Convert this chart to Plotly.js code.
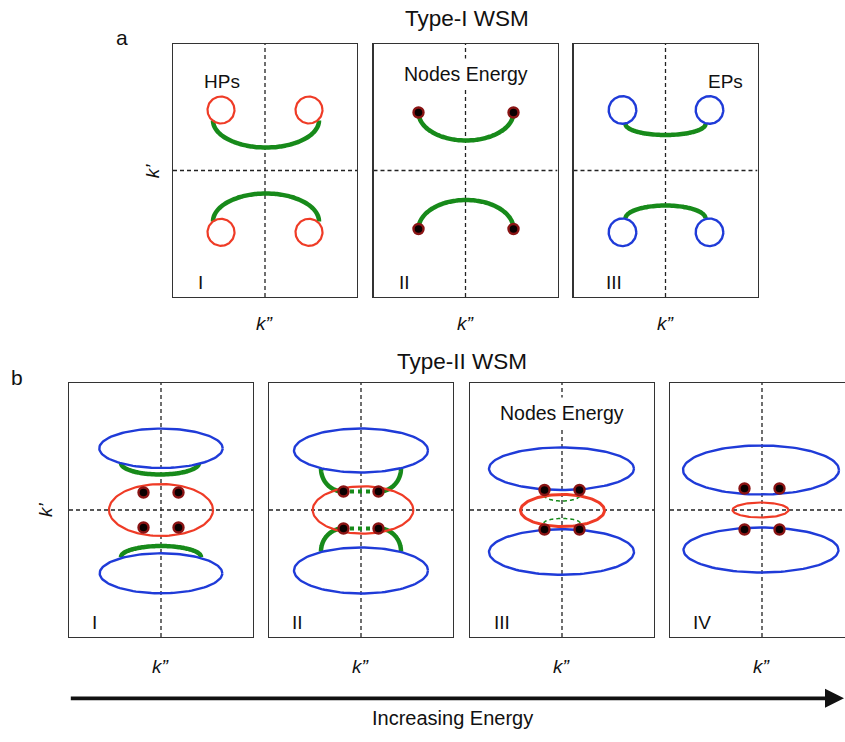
<!DOCTYPE html>
<html><head><meta charset="utf-8">
<script src="https://cdn.plot.ly/plotly-3.0.1.min.js"></script>
<style>html,body{margin:0;padding:0;background:#fff}#chart{width:845px;height:742px}</style>
</head><body><div id="chart"></div>
<script>
// ---------------- DATA (k-space schematic values, one unit = one pixel of the original) ----------------
// panels: 0-2 = Type-I WSM (a: I, II, III), 3-6 = Type-II WSM (b: I..IV)
const panelLabels = ['I','II','III','I','II','III','IV'];
const groupTitles = ['Type-I WSM','Type-II WSM'];
const groupLetters = ['a','b'];

// closed Fermi pockets: hp = hole pocket (red), ep = electron pocket (blue)
const loopPanel = [0,0,0,0, 2,2,2,2, 3,3,3, 4,4,4, 5,5,5, 6,6,6];
const loopKind  = ['hp','hp','hp','hp', 'ep','ep','ep','ep', 'ep','ep','hp', 'ep','ep','hp', 'ep','ep','hp3', 'ep','ep','hp'];
const loopX  = [-44,44,-44,44, -43,44,-43,44, 0,0,0, 0,0,2, -0.5,-0.5,0.5, -1,-1,-1.5];
const loopY  = [60.5,60.5,-61.8,-61.8, 60.5,60.5,-61.8,-61.8, 61.7,-63.3,0, 59.5,-60.5,0, 41.3,-42,-0.5, 40,-40,0];
const loopRx = [13.5,13.5,13.5,13.5, 13.8,13.8,13.8,13.8, 61.7,61.3,52, 67,67,50.3, 72.5,72.5,42, 78,77.5,28];
const loopRy = [13.5,13.5,13.5,13.5, 13.8,13.8,13.8,13.8, 19.7,20,26, 22,23,23.7, 21.3,22.8,16, 24.5,22.5,7.5];

// Fermi arcs: elliptical arcs (centre, half-axes, start/end angle in degrees)
const arcPanel = [0,0, 1,1, 2,2, 3,3, 4,4,4,4, 5,5];
const arcKind  = ['arc','arc', 'arc','arc', 'arc','arc', 'arc','arc', 'arc','arc','arc','arc', 'hidden','hidden'];
const arcX  = [1,1, 0.5,0.5, 0,0, -1,0, -18,18,-18,18, 0,0];
const arcY  = [50,-51, 58,-58.5, 46.5,-48, 47,-47, 41.5,41.5,-41.5,-41.5, 15,-13];
const arcRx = [53,53, 47.5,47.5, 40,40, 39,40, 22,22,22,22, 18,18];
const arcRy = [27,28, 28,29, 11,13, 11.5,11, 23,23,23,23, 6,4.5];
const arcFrom = [180,0, 180,0, 180,0, 180,0, 180,270,90,0, 180,0];
const arcTo   = [360,180, 360,180, 360,180, 360,180, 270,360,180,90, 360,180];

// dotted arc segments between nodes (panel b-II)
const segPanel = [4,4];
const segX0 = [-11,-11];
const segX1 = [12,12];
const segY  = [18.5,-18.5];

// Weyl nodes
const nodePanel = [1,1,1,1, 3,3,3,3, 4,4,4,4, 5,5,5,5, 6,6,6,6];
const nodeX = [-47,48,-47,48, -17.5,17.5,-17.5,17.5, -17.5,17.5,-17.5,17.5, -17.5,17.5,-17.5,17.5, -17.5,17.5,-17.5,17.5];
const nodeY = [58,58,-58.5,-58.5, 17.5,17.5,-17.5,-17.5, 18.5,18.5,-18.5,-18.5, 20,20,-19.5,-19.5, 21.5,21.5,-19.5,-19.5];

// ---------------- LAYOUT / STYLE ----------------
const W = 845, H = 742;
const FONT = 'Liberation Sans, Arial, Helvetica, sans-serif';
const panelBox = [ // left, top, width, height (pixels)
  [173,44,184,253],[373.5,44,184,253],[573.5,44,184,253],
  [69,383,184,254],[269,383,184,254],[470,383,184,254],[670,383,184,254]];
const styles = {
  hp:  {color:'#ef3b26', width:2.2},
  hp3: {color:'#ef3b26', width:3},
  ep:  {color:'#1f3bd8', width:2.4},
  arc: {color:'#178a1a', width:4.5, dash:'solid'},
  hidden: {color:'#178a1a', width:1.5, dash:'4px,3px'},
  seg: {color:'#178a1a', width:4, dash:'dot'}
};
const px = x => x / W, py = y => 1 - y / H;
const ax = p => p === 0 ? '' : String(p + 1);
const txt = (o) => Object.assign({showarrow:false, xanchor:'center', yanchor:'middle'}, o);

const layout = {
  width: W, height: H, margin:{l:0,r:0,t:0,b:0},
  paper_bgcolor:'#fff', plot_bgcolor:'#fff', showlegend:false,
  shapes: [], annotations: [], font:{family:FONT, color:'#111'}
};

panelBox.forEach((b, p) => {
  const [l, t, w, h] = b;
  const r = Math.min(W, l + w);
  const xr = [-w/2, r - l - w/2], yr = [-h/2, h/2];
  const common = {showgrid:false, zeroline:false, showticklabels:false, ticks:'', showline:true,
                  linecolor:'#333', linewidth:1.2, fixedrange:true};
  layout['xaxis' + ax(p)] = Object.assign({}, common, {domain:[px(l), px(r)], range:xr, anchor:'y' + ax(p), mirror:true});
  layout['yaxis' + ax(p)] = Object.assign({}, common, {domain:[py(t + h), py(t)], range:yr, anchor:'x' + ax(p), mirror: r - l >= w});
  const xref = 'x' + ax(p), yref = 'y' + ax(p);
  const dl = {color:'#222', width:1.3, dash:'4px,3px'};
  layout.shapes.push({type:'line', xref, yref, x0:0, x1:0, y0:yr[0], y1:yr[1], line:dl, layer:'below'});
  layout.shapes.push({type:'line', xref, yref, x0:xr[0], x1:xr[1], y0:0, y1:0, line:dl, layer:'below'});
  // panel numeral
  const numOff = [23,23,30,21,21,22,21][p];
  layout.annotations.push(txt({xref, yref, x: xr[0] + numOff, y: -h/2 + 14.5, xanchor:'left',
    text: panelLabels[p], font:{size:19, family:FONT, color:'#111'}}));
  // k'' label
  layout.annotations.push(txt({xref:'paper', yref:'paper', x: px(l + w/2), y: py(p < 3 ? 323 : 666.7),
    text:'<i>k\u201D</i>', font:{size:19, family:FONT, color:'#111'}}));
});

// k' labels
[[153.3,171],[45,510]].forEach(([x,y]) => layout.annotations.push(txt({xref:'paper', yref:'paper', x:px(x), y:py(y),
  text:'<i>k\u2019</i>', textangle:-90, font:{size:19, family:FONT, color:'#111'}})));
// group titles and letters
[[466.7,18.5],[462,362]].forEach(([x,y], i) => layout.annotations.push(txt({xref:'paper', yref:'paper', x:px(x), y:py(y),
  text:groupTitles[i], font:{size:22.5, family:FONT, color:'#111'}})));
[[121.7,37],[16.7,377]].forEach(([x,y], i) => layout.annotations.push(txt({xref:'paper', yref:'paper', x:px(x), y:py(y),
  text:groupLetters[i], font:{size:21, family:FONT, color:'#111'}})));
// in-panel labels
layout.annotations.push(txt({xref:'x', yref:'y', x:-43, y:89, text:'HPs', font:{size:19, family:FONT, color:'#111'}}));
layout.annotations.push(txt({xref:'x2', yref:'y2', x:0, y:97, text:'Nodes Energy', bgcolor:'#fff', borderpad:4, font:{size:19.5, family:FONT, color:'#111'}}));
layout.annotations.push(txt({xref:'x3', yref:'y3', x:60, y:89, text:'EPs', font:{size:19, family:FONT, color:'#111'}}));
layout.annotations.push(txt({xref:'x6', yref:'y6', x:0, y:96.7, text:'Nodes Energy', bgcolor:'#fff', borderpad:4, font:{size:19.5, family:FONT, color:'#111'}}));
// energy arrow
layout.annotations.push({xref:'paper', yref:'paper', x:1, y:py(698.3), ax:-(W - 69.3), ay:0, axref:'pixel', ayref:'pixel',
  text:'', showarrow:true, arrowhead:2, arrowsize:1, arrowwidth:3.8, arrowcolor:'#111'});
layout.annotations.push(txt({xref:'paper', yref:'paper', x:px(452), y:py(717.5), text:'Increasing Energy',
  font:{size:20, family:FONT, color:'#111'}}));

// ---------------- TRACES ----------------
const traces = [];
function ell(cx, cy, rx, ry, a0, a1, n) {
  const xs = [], ys = [];
  for (let i = 0; i <= n; i++) {
    const t = (a0 + (a1 - a0) * i / n) * Math.PI / 180;
    xs.push(cx + rx * Math.cos(t)); ys.push(cy + ry * Math.sin(t));
  }
  return [xs, ys];
}
// arcs (under pockets)
arcPanel.forEach((p, i) => {
  const [xs, ys] = ell(arcX[i], arcY[i], arcRx[i], arcRy[i], arcFrom[i], arcTo[i], 60);
  const s = styles[arcKind[i]];
  traces.push({type:'scatter', mode:'lines', x:xs, y:ys, xaxis:'x'+ax(p), yaxis:'y'+ax(p), hoverinfo:'skip',
    line:{color:s.color, width:s.width, dash:s.dash, shape:'spline'}});
});
segPanel.forEach((p, i) => {
  const s = styles.seg;
  traces.push({type:'scatter', mode:'lines', x:[segX0[i], segX1[i]], y:[segY[i], segY[i]], xaxis:'x'+ax(p), yaxis:'y'+ax(p),
    hoverinfo:'skip', line:{color:s.color, width:s.width, dash:s.dash}});
});
// pockets: red first, then blue
['hp','hp3','ep'].forEach(kind => loopPanel.forEach((p, i) => {
  if (loopKind[i] !== kind) return;
  const [xs, ys] = ell(loopX[i], loopY[i], loopRx[i], loopRy[i], 0, 360, 120);
  const s = styles[kind];
  traces.push({type:'scatter', mode:'lines', x:xs, y:ys, xaxis:'x'+ax(p), yaxis:'y'+ax(p), hoverinfo:'skip',
    line:{color:s.color, width:s.width}});
}));
// Weyl nodes
for (let p = 0; p < 7; p++) {
  const xs = [], ys = [];
  nodePanel.forEach((q, i) => { if (q === p) { xs.push(nodeX[i]); ys.push(nodeY[i]); } });
  if (!xs.length) continue;
  traces.push({type:'scatter', mode:'markers', x:xs, y:ys, xaxis:'x'+ax(p), yaxis:'y'+ax(p), hoverinfo:'skip',
    marker:{size:10, color:'#0a0000', line:{color:'#8a1414', width:2.4}}});
}

Plotly.newPlot('chart', traces, layout, {displayModeBar:false, staticPlot:true});
</script></body></html>
